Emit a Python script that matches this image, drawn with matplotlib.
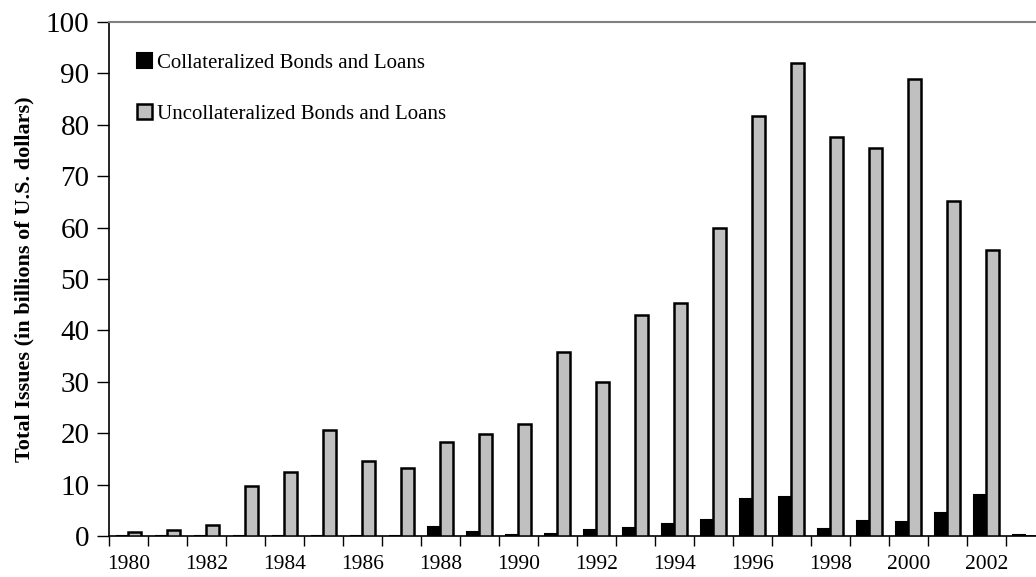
import matplotlib
matplotlib.use("Agg")
import matplotlib.pyplot as plt
import numpy as np

years = list(range(1980, 2004))
collateralized = [0, 0, 0, 0, 0, 0, 0, 0, 1.7, 0.85, 0.2, 0.45, 1.2, 1.6, 2.4, 3.2,
                  7.2, 7.6, 1.35, 3.0, 2.7, 4.4, 7.9, 0.15]
uncollateralized = [0.8, 1.2, 2.2, 9.8, 12.5, 20.7, 14.5, 13.3, 18.2, 19.9, 21.8, 35.8,
                    29.9, 43.0, 45.3, 60.0, 81.7, 92.0, 77.7, 75.5, 89.0, 65.2, 55.7, 0]
label_years = [str(y) if y % 2 == 0 else "" for y in years]
yticks = list(range(0, 101, 10))

plt.rcParams['font.family'] = ['Liberation Serif', 'DejaVu Serif']

fig = plt.figure(figsize=(10.36, 5.77), dpi=100)
ax = fig.add_axes([109/1036, 1 - 536/577, 1 - 109/1036, (536 - 22)/577])

x = np.arange(len(years))
w = 0.33
ax.bar(x - w, collateralized, width=w, align='edge', color='black', edgecolor='black',
       linewidth=1.5, label='Collateralized Bonds and Loans', zorder=3)
ax.bar(x, uncollateralized, width=w, align='edge', color='#C0C0C0', edgecolor='black',
       linewidth=1.8, label='Uncollateralized Bonds and Loans', zorder=3)

ax.set_xlim(-0.5, 23.27)
ax.set_ylim(0, 100)

ax.set_xticks(x - 0.5)
ax.set_xticklabels([])
ax.set_xticks(x, minor=True)
ax.set_xticklabels(label_years, minor=True, fontsize=15.5)
ax.tick_params(axis='x', which='major', direction='out', length=7, width=1)
ax.tick_params(axis='x', which='minor', length=0, pad=14)

ax.set_yticks(yticks)
ax.set_yticklabels([str(v) for v in yticks], fontsize=21)
ax.tick_params(axis='y', direction='out', length=9, width=1, pad=5)

for s in ['left', 'bottom']:
    ax.spines[s].set_linewidth(1.2)
    ax.spines[s].set_color('black')
ax.spines['top'].set_color('#808080')
ax.spines['top'].set_linewidth(1.5)
ax.spines['right'].set_visible(False)

ax.set_ylabel('Total Issues (in billions of U.S. dollars)', fontsize=16, fontweight='bold',
              labelpad=8)

ax.legend(loc='upper left', bbox_to_anchor=(0.030, 0.940), frameon=False, fontsize=15,
          borderpad=0, borderaxespad=0, labelspacing=1.5, handlelength=0.72,
          handleheight=0.72, handletextpad=0.25)

fig.savefig('out.png', dpi=100)
